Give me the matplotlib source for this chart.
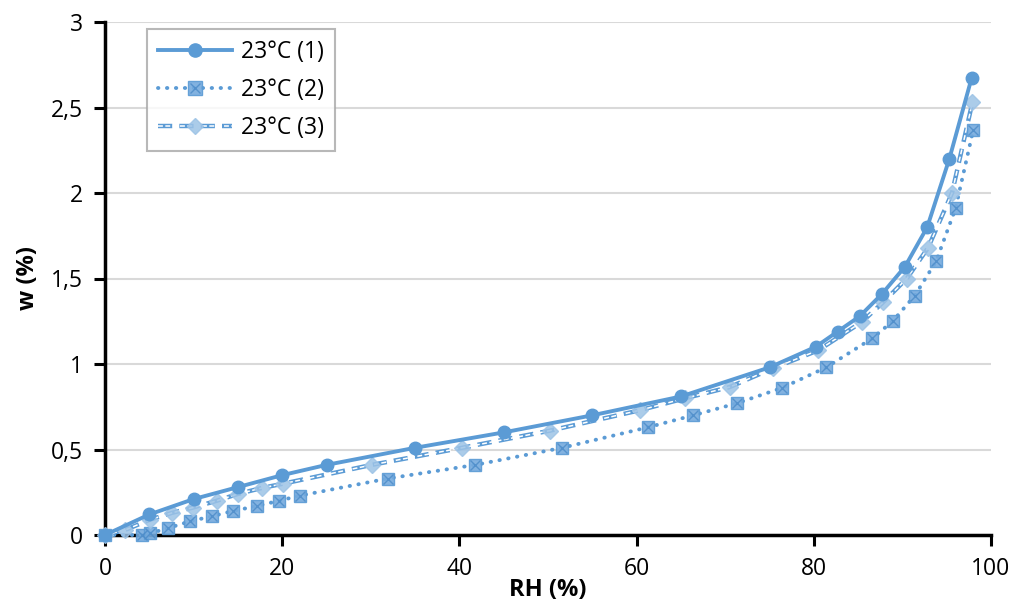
import numpy as np
import matplotlib.pyplot as plt
from matplotlib.lines import Line2D

# Sorption isotherm data, 23 °C, three runs
rh_1 = [0, 5, 10, 15, 20, 25, 35, 45, 55, 65, 75, 80.2, 82.7, 85.2, 87.7, 90.3, 92.8, 95.3, 97.8]
w_1 = [0, 0.12, 0.21, 0.28, 0.35, 0.41, 0.51, 0.60, 0.70, 0.81, 0.98, 1.10, 1.19, 1.28, 1.41, 1.57, 1.80, 2.20, 2.67]

rh_2 = [0, 4.2, 5.1, 7.1, 9.6, 12.1, 14.4, 17.2, 19.6, 22.0, 31.9, 41.8, 51.6, 61.3, 66.4,
        71.3, 76.4, 81.4, 86.6, 88.9, 91.4, 93.8, 96.0, 98.0]
w_2 = [0, 0.0, 0.01, 0.04, 0.08, 0.11, 0.14, 0.17, 0.20, 0.23, 0.33, 0.41, 0.51, 0.63, 0.70,
       0.77, 0.86, 0.98, 1.15, 1.25, 1.40, 1.60, 1.91, 2.37]

rh_3 = [0, 2.3, 5.1, 7.6, 9.9, 12.6, 15.0, 17.7, 20.1, 30.1, 40.3, 50.2, 60.4, 65.5, 70.5,
        75.4, 80.5, 85.4, 87.8, 90.5, 92.9, 95.6, 97.9]
w_3 = [0, 0.03, 0.09, 0.13, 0.16, 0.20, 0.24, 0.275, 0.30, 0.41, 0.51, 0.61, 0.73, 0.80, 0.865,
       0.975, 1.08, 1.245, 1.36, 1.50, 1.68, 2.00, 2.53]

labels = ['23°C (1)', '23°C (2)', '23°C (3)']
x_ticks = [0, 20, 40, 60, 80, 100]
y_ticks = [0, 0.5, 1, 1.5, 2, 2.5, 3]
y_tick_labels = ['0', '0,5', '1', '1,5', '2', '2,5', '3']

blue = '#5B9BD5'
light = '#9DC3E6'

plt.rcParams['font.family'] = ['Open Sans', 'DejaVu Sans']

fig = plt.figure(figsize=(10.22, 6.06), dpi=100)
ax = fig.add_axes([105 / 1022, 71 / 606, 886 / 1022, 513 / 606])

# run 1: solid line, round markers
ax.plot(rh_1, w_1, color=blue, lw=2.8, marker='o', ms=9, mfc=blue, mec=blue,
        zorder=5, clip_on=False)

# run 2: dotted line, square markers with a cross
sq_face = '#74AADD'
ax.plot(rh_2, w_2, color=blue, lw=2.8, linestyle=(0, (0.1, 2.2)),
        dash_capstyle='round', zorder=3, clip_on=False)
ax.plot(rh_2, w_2, linestyle='none', marker='s', ms=9, mfc=sq_face, mec=blue,
        mew=1, alpha=0.9, zorder=4, clip_on=False)
ax.plot(rh_2, w_2, linestyle='none', marker='x', ms=7, mec='#4A8AC8', mew=1,
        alpha=0.8, zorder=4, clip_on=False)

# run 3: double dashed line, diamond markers
dash = (0, (3.2, 1.6))
ax.plot(rh_3, w_3, color=blue, lw=3.2, linestyle=dash, zorder=3, clip_on=False)
ax.plot(rh_3, w_3, color='white', lw=1.1, linestyle=dash, zorder=3, clip_on=False)
ax.plot(rh_3, w_3, linestyle='none', marker='D', ms=8, mfc=light, mec=light,
        mew=1, alpha=0.85, zorder=4, clip_on=False)

ax.set_xlim(0, 100)
ax.set_ylim(0, 3)
ax.set_xticks(x_ticks)
ax.set_yticks(y_ticks)
ax.set_yticklabels(y_tick_labels)
ax.tick_params(axis='both', labelsize=16.5, width=2.2, length=8, direction='out')
ax.tick_params(axis='x', pad=8)
ax.tick_params(axis='y', pad=8)
ax.grid(axis='y', color='#D9D9D9', lw=1.5)
ax.set_axisbelow(True)

for side in ['top', 'right']:
    ax.spines[side].set_visible(False)
for side in ['left', 'bottom']:
    ax.spines[side].set_linewidth(2.5)

ax.set_xlabel('RH (%)', fontsize=17, fontweight='bold', labelpad=-2)
ax.set_ylabel('w (%)', fontsize=17, fontweight='bold', labelpad=8)

# legend with the combined line + marker styles
h1 = Line2D([], [], color=blue, lw=2.8, marker='o', ms=9.5)
h2 = (Line2D([], [], color=blue, lw=2.8, linestyle=(0, (0.1, 2.2)), dash_capstyle='round'),
      Line2D([], [], linestyle='none', marker='s', ms=9.5, mfc=sq_face, mec=blue, alpha=0.9),
      Line2D([], [], linestyle='none', marker='x', ms=7, mec='#4A8AC8', alpha=0.8))
h3 = (Line2D([], [], color=blue, lw=3.2, linestyle=dash),
      Line2D([], [], color='white', lw=1.1, linestyle=dash),
      Line2D([], [], linestyle='none', marker='D', ms=8.5, mfc=light, mec=light, alpha=0.85))
leg = ax.legend([h1, h2, h3], labels, loc='upper left',
                bbox_to_anchor=(147 / 1022, 1 - 29 / 606), bbox_transform=fig.transFigure,
                borderaxespad=0, fontsize=16.5, frameon=True, fancybox=False,
                edgecolor='#A6A6A6', handlelength=3.2, borderpad=0.5,
                labelspacing=0.6, handletextpad=0.4)
leg.get_frame().set_linewidth(1.5)

fig.savefig('out.png', dpi=100, facecolor='white')
